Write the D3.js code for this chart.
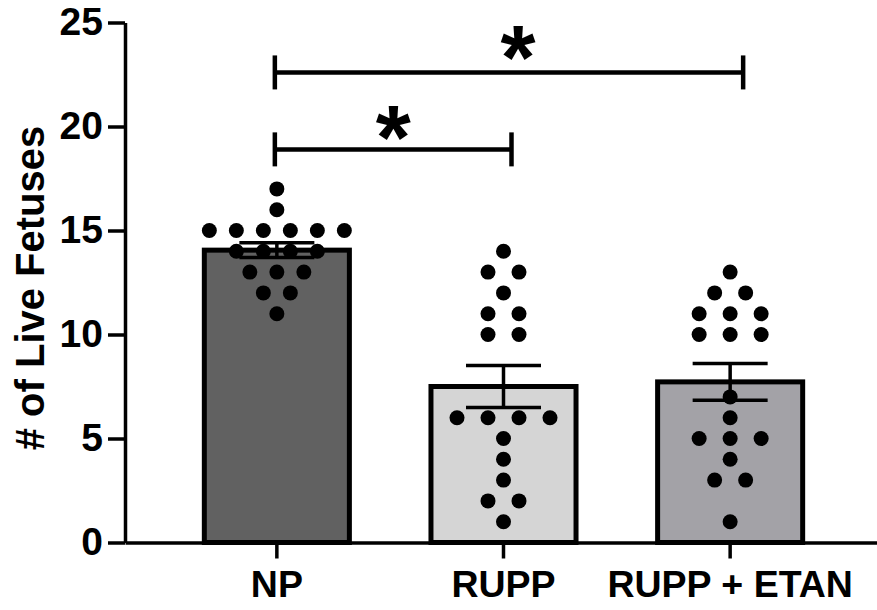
<!DOCTYPE html>
<html>
<head>
<meta charset="utf-8">
<script src="https://cdn.jsdelivr.net/npm/d3@7"></script>
<style>
  body { margin: 0; background: #fff; }
  svg { display: block; font-family: "Liberation Sans", Arial, sans-serif; font-weight: bold; }
</style>
</head>
<body>
<script>
// group names and the individual litters
var groups = ["NP", "RUPP", "RUPP + ETAN"];
var npValues = [17, 16, 15, 15, 15, 15, 15, 15, 14, 14, 14, 14, 13, 13, 13, 12, 12, 11];
var ruppValues = [14, 13, 13, 12, 11, 11, 10, 10, 6, 6, 6, 6, 5, 4, 3, 2, 2, 1];
var etanValues = [13, 12, 12, 11, 11, 11, 10, 10, 10, 7, 6, 5, 5, 5, 4, 3, 3, 1];
var yTicks = [0, 5, 10, 15, 20, 25];
// significance brackets: from group, to group, height in y units
var brackets = [
  {from: "NP", to: "RUPP + ETAN", level: 22.6, label: "*"},
  {from: "NP", to: "RUPP", level: 18.9, label: "*"}
];

var fills = ["#616161", "#d5d5d5", "#a3a2a7"];

var width = 877, height = 610;
var margin = {top: 22.5, left: 125, bottom: 67.5};

var svg = d3.select("body").append("svg")
    .attr("width", width)
    .attr("height", height);

var x = d3.scaleBand()
    .domain(groups)
    .range([margin.left, 882])
    .paddingInner(0.36)
    .paddingOuter(0.35);

var y = d3.scaleLinear()
    .domain([0, 25])
    .range([height - margin.bottom, margin.top]);

var data = [npValues, ruppValues, etanValues].map(function(vals, i) {
    var mean = d3.mean(vals);
    var sem = d3.deviation(vals) / Math.sqrt(vals.length);
    return {group: groups[i], values: vals, mean: mean, sem: sem, fill: fills[i]};
});

// bars
svg.selectAll(".bar")
    .data(data)
    .enter().append("rect")
    .attr("class", "bar")
    .attr("x", function(d) { return x(d.group); })
    .attr("width", x.bandwidth())
    .attr("y", function(d) { return y(d.mean); })
    .attr("height", function(d) { return y(0) - y(d.mean); })
    .style("fill", function(d) { return d.fill; })
    .style("stroke", "#000")
    .style("stroke-width", 5);

// dots, stacked in rows by value
data.forEach(function(d) {
    var counts = d3.rollup(d.values, function(v) { return v.length; }, function(v) { return v; });
    var maxCount = d3.max(counts.values());
    var spacing = Math.min(31, 135 / Math.max(1, maxCount - 1));
    var seen = new Map();
    var pts = d.values.map(function(v) {
        var n = counts.get(v);
        var k = seen.get(v) || 0;
        seen.set(v, k + 1);
        return {v: v, off: (k - (n - 1) / 2) * spacing};
    });
    var cx = x(d.group) + x.bandwidth() / 2;
    svg.selectAll(".dot-" + groups.indexOf(d.group))
        .data(pts)
        .enter().append("circle")
        .attr("cx", function(p) { return cx + p.off; })
        .attr("cy", function(p) { return y(p.v); })
        .attr("r", 7.5)
        .style("fill", "#000");
});

// error bars (mean +/- SEM)
var eb = svg.selectAll(".err")
    .data(data)
    .enter().append("g")
    .attr("class", "err")
    .style("stroke", "#000")
    .style("stroke-width", 3.5);

eb.append("line")
    .attr("x1", function(d) { return x(d.group) + x.bandwidth() / 2; })
    .attr("x2", function(d) { return x(d.group) + x.bandwidth() / 2; })
    .attr("y1", function(d) { return y(d.mean + d.sem); })
    .attr("y2", function(d) { return y(d.mean - d.sem); });

[1, -1].forEach(function(s) {
    eb.append("line")
        .attr("x1", function(d) { return x(d.group) + x.bandwidth() / 2 - 37.5; })
        .attr("x2", function(d) { return x(d.group) + x.bandwidth() / 2 + 37.5; })
        .attr("y1", function(d) { return y(d.mean + s * d.sem); })
        .attr("y2", function(d) { return y(d.mean + s * d.sem); });
});

// axes
var yAxis = svg.append("g")
    .attr("transform", "translate(" + margin.left + ",0)")
    .call(d3.axisLeft(y).tickValues(yTicks).tickSize(17).tickSizeOuter(0).tickPadding(5));

var xAxis = svg.append("g")
    .attr("transform", "translate(0," + y(0) + ")")
    .call(d3.axisBottom(x).tickSize(16).tickSizeOuter(0).tickPadding(12));

[yAxis, xAxis].forEach(function(a) {
    a.select(".domain").style("stroke-width", 3.5);
    a.selectAll(".tick line").style("stroke-width", 3.5);
    a.selectAll("text")
        .style("font-weight", "bold")
        .style("font-family", "'Liberation Sans', Arial, sans-serif")
        .style("fill", "#000");
});
yAxis.selectAll("text").style("font-size", "39px");
xAxis.selectAll("text").style("font-size", "37.5px");

// y title
svg.append("text")
    .attr("transform", "translate(44," + 288 + ") rotate(-90)")
    .attr("text-anchor", "middle")
    .style("font-size", "40px")
    .text("# of Live Fetuses");

// significance brackets
var ends = {"NP": -2, "RUPP": 8, "RUPP + ETAN": 13};
var starShift = [{dx: 9, dy: -5}, {dx: 0, dy: -2}];
var bx = function(g) { return x(g) + x.bandwidth() / 2 + ends[g]; };

brackets.forEach(function(b, i) {
    var g = svg.append("g").style("stroke", "#000").style("stroke-width", 4.5).style("fill", "none");
    g.append("line")
        .attr("x1", bx(b.from)).attr("x2", bx(b.to))
        .attr("y1", y(b.level)).attr("y2", y(b.level));
    [b.from, b.to].forEach(function(e) {
        g.append("line")
            .attr("x1", bx(e)).attr("x2", bx(e))
            .attr("y1", y(b.level) - 17).attr("y2", y(b.level) + 17);
    });
    svg.append("text")
        .attr("x", (bx(b.from) + bx(b.to)) / 2 + starShift[i].dx)
        .attr("y", y(b.level) + 22 + starShift[i].dy)
        .attr("text-anchor", "middle")
        .style("font-size", "90px")
        .text(b.label);
});
</script>
</body>
</html>
